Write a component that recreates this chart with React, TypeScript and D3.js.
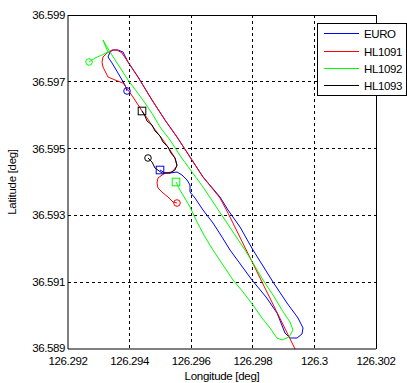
import React from "react";
import * as d3 from "d3";

const xTicks = [126.292, 126.294, 126.296, 126.298, 126.3, 126.302];
const xTickLabels = ["126.292", "126.294", "126.296", "126.298", "126.3", "126.302"];
const yTicks = [36.589, 36.591, 36.593, 36.595, 36.597, 36.599];
const yTickLabels = ["36.589", "36.591", "36.593", "36.595", "36.597", "36.599"];

const seriesNames = ["EURO", "HL1091", "HL1092", "HL1093"];
const seriesColors = ["#0000ff", "#ff0000", "#00ff00", "#000000"];

const euroLon = [126.293916, 126.293851, 126.293623, 126.293429, 126.293299, 126.293364, 126.293461, 126.293623, 126.293786, 126.293948, 126.294273, 126.294727, 126.295149, 126.295539, 126.295961, 126.296383, 126.296935, 126.297195, 126.297584, 126.298006, 126.298331, 126.298656, 126.29911, 126.299468, 126.29963, 126.299597, 126.299435, 126.299208, 126.299045, 126.298786, 126.298429, 126.297974, 126.297617, 126.29726, 126.297, 126.296708, 126.296383, 126.296123, 126.295961, 126.295961, 126.295864, 126.295701, 126.295539, 126.295312, 126.295149, 126.294987];
const euroLat = [36.596725, 36.596904, 36.597263, 36.597563, 36.597743, 36.597892, 36.597952, 36.597952, 36.597892, 36.597593, 36.597144, 36.596455, 36.595856, 36.595347, 36.594749, 36.59415, 36.593551, 36.593162, 36.592653, 36.591964, 36.591485, 36.591006, 36.590377, 36.589928, 36.589629, 36.589449, 36.589329, 36.589329, 36.589479, 36.590078, 36.590557, 36.591066, 36.591515, 36.591964, 36.592353, 36.592772, 36.593162, 36.593521, 36.593701, 36.59391, 36.59406, 36.59421, 36.594299, 36.594269, 36.594269, 36.594359];

const hl1091Lon = [126.295539, 126.295409, 126.295247, 126.295084, 126.294922, 126.29489, 126.294922, 126.295149, 126.295377, 126.295539, 126.295474, 126.295312, 126.295084, 126.29476, 126.294565, 126.294403, 126.29411, 126.293786, 126.293526, 126.293299, 126.293136, 126.293104, 126.293136, 126.293266, 126.293429, 126.293591, 126.293753, 126.293948, 126.294273, 126.294727, 126.295149, 126.295539, 126.295961, 126.296383, 126.296935, 126.297195, 126.299468];
const hl1091Lat = [36.593371, 36.593401, 36.593551, 36.593671, 36.59382, 36.59397, 36.59412, 36.594269, 36.594299, 36.594479, 36.594719, 36.594958, 36.595257, 36.595647, 36.595916, 36.596126, 36.596545, 36.596964, 36.597054, 36.597144, 36.597443, 36.597593, 36.597743, 36.597862, 36.597952, 36.597952, 36.597862, 36.597593, 36.597144, 36.596455, 36.595856, 36.595347, 36.594749, 36.59415, 36.593521, 36.593072, 36.58882];

const hl1092Lon = [126.292682, 126.292877, 126.293104, 126.293299, 126.293201, 126.293136, 126.293266, 126.293364, 126.293656, 126.293948, 126.29424, 126.2945, 126.29476, 126.294987, 126.295312, 126.295669, 126.296026, 126.296383, 126.296708, 126.297032, 126.297357, 126.297682, 126.298006, 126.298331, 126.298656, 126.298948, 126.299208, 126.299305, 126.299175, 126.298948, 126.298786, 126.298558, 126.298299, 126.298006, 126.297682, 126.297357, 126.297032, 126.296708, 126.296448, 126.296188, 126.295961, 126.295734, 126.295636, 126.295506];
const hl1092Lat = [36.597593, 36.597713, 36.597802, 36.597892, 36.598102, 36.598251, 36.598042, 36.597892, 36.597473, 36.597054, 36.596695, 36.596365, 36.596006, 36.595647, 36.595257, 36.594749, 36.594299, 36.59385, 36.593401, 36.592952, 36.592503, 36.592054, 36.591575, 36.591066, 36.590617, 36.590168, 36.589808, 36.589569, 36.589359, 36.589269, 36.589329, 36.589629, 36.589928, 36.590317, 36.590707, 36.591066, 36.591515, 36.591964, 36.592353, 36.592802, 36.593251, 36.593611, 36.59376, 36.594];

const hl1093Lon = [126.294597, 126.294727, 126.294825, 126.295052, 126.295312, 126.295474, 126.295539, 126.295474, 126.295344, 126.295247, 126.295084, 126.294987, 126.294825, 126.294727, 126.294565, 126.2945, 126.294403];
const hl1093Lat = [36.594719, 36.594599, 36.594419, 36.594269, 36.594269, 36.594359, 36.594509, 36.594719, 36.594868, 36.595048, 36.595198, 36.595377, 36.595527, 36.595707, 36.595826, 36.595976, 36.596126];

const seriesLon = [euroLon, hl1091Lon, hl1092Lon, hl1093Lon];
const seriesLat = [euroLat, hl1091Lat, hl1092Lat, hl1093Lat];
// end marker shown only if inside plot (HL1091 ends outside)
const showEnd = [true, false, true, true];

const W = 407;
const H = 383;
const L = 68, R = 376, T = 15, B = 349;
const font = "'Liberation Sans', Arial, Helvetica, sans-serif";

export default function App() {
  const x = d3.scaleLinear().domain([126.292, 126.302]).range([L, R]);
  const y = d3.scaleLinear().domain([36.589, 36.599]).range([B, T]);
  const line = d3.line<[number, number]>().x((d) => x(d[0])).y((d) => y(d[1]));

  const series = seriesNames.map((name, i) => ({
    name,
    color: seriesColors[i],
    pts: seriesLon[i].map((lo, j) => [lo, seriesLat[i][j]] as [number, number]),
  }));

  const legendX = 317.5, legendY = 23.5, legendW = 89, legendH = 72;
  const legendRows = [33, 51, 68, 85];

  return (
    <svg width={W} height={H} style={{ position: "absolute", left: 0, top: 0, background: "#fff" }} fontFamily={font}>
      <rect x={0} y={0} width={W} height={H} fill="#fff" />
      <defs>
        <clipPath id="plotclip">
          <rect x={L} y={T} width={R - L} height={B - T} />
        </clipPath>
      </defs>
      {/* grid */}
      {xTicks.slice(1, -1).map((t) => (
        <line key={"gx" + t} x1={Math.floor(x(t)) + 0.5} x2={Math.floor(x(t)) + 0.5} y1={T} y2={B} stroke="#000" strokeWidth={1} strokeDasharray="3,3" />
      ))}
      {yTicks.slice(1, -1).map((t) => (
        <line key={"gy" + t} y1={Math.floor(y(t)) + 0.5} y2={Math.floor(y(t)) + 0.5} x1={L} x2={R} stroke="#000" strokeWidth={1} strokeDasharray="3,3" />
      ))}
      {/* series */}
      <g clipPath="url(#plotclip)">
        {series.map((s) => (
          <path key={s.name} d={line(s.pts) || ""} fill="none" stroke={s.color} strokeWidth={1} strokeLinejoin="round" />
        ))}
        {series.map((s, i) => {
          const p0 = s.pts[0];
          const p1 = s.pts[s.pts.length - 1];
          return (
            <g key={"m" + s.name}>
              <circle cx={x(p0[0])} cy={y(p0[1])} r={3.3} fill="none" stroke={s.color} strokeWidth={1} />
              {showEnd[i] && (
                <rect x={x(p1[0]) - 3.8} y={y(p1[1]) - 3.8} width={7.6} height={7.6} fill="none" stroke={s.color} strokeWidth={1} />
              )}
            </g>
          );
        })}
      </g>
      {/* frame */}
      <line x1={L} x2={R} y1={T + 0.5} y2={T + 0.5} stroke="#000" strokeWidth={1} />
      <line x1={R + 0.5} x2={R + 0.5} y1={T} y2={B} stroke="#000" strokeWidth={1} />
      <line x1={L} x2={L} y1={T} y2={B} stroke="#000" strokeWidth={1} />
      <line x1={L} x2={R} y1={B} y2={B} stroke="#000" strokeWidth={1} />
      {/* tick labels */}
      {xTicks.map((t, i) => (
        <text key={"xl" + t} x={x(t)} y={364.5} textAnchor="middle" fontSize={11.5} letterSpacing={-0.4} fill="#000">
          {xTickLabels[i]}
        </text>
      ))}
      {yTicks.map((t, i) => (
        <text key={"yl" + t} x={L - 3} y={y(t) + (i === 0 ? 2.5 : 4)} textAnchor="end" fontSize={11.5} letterSpacing={-0.4} fill="#000">
          {yTickLabels[i]}
        </text>
      ))}
      <text x={(L + R) / 2} y={380} textAnchor="middle" fontSize={11.5} letterSpacing={-0.3} fill="#000">
        Longitude [deg]
      </text>
      <text transform={`translate(16,${(T + B) / 2}) rotate(-90)`} textAnchor="middle" fontSize={11.5} letterSpacing={-0.3} fill="#000">
        Latitude [deg]
      </text>
      {/* legend */}
      <rect x={legendX} y={legendY} width={legendW} height={legendH} fill="#fff" stroke="#000" strokeWidth={1} />
      {series.map((s, i) => (
        <g key={"lg" + s.name}>
          <line x1={324} x2={359} y1={legendRows[i] + 0.5} y2={legendRows[i] + 0.5} stroke={s.color} strokeWidth={1} />
          <text x={364} y={legendRows[i] + 4.5} fontSize={11.5} letterSpacing={-0.4} fill="#000">
            {s.name}
          </text>
        </g>
      ))}
    </svg>
  );
}
